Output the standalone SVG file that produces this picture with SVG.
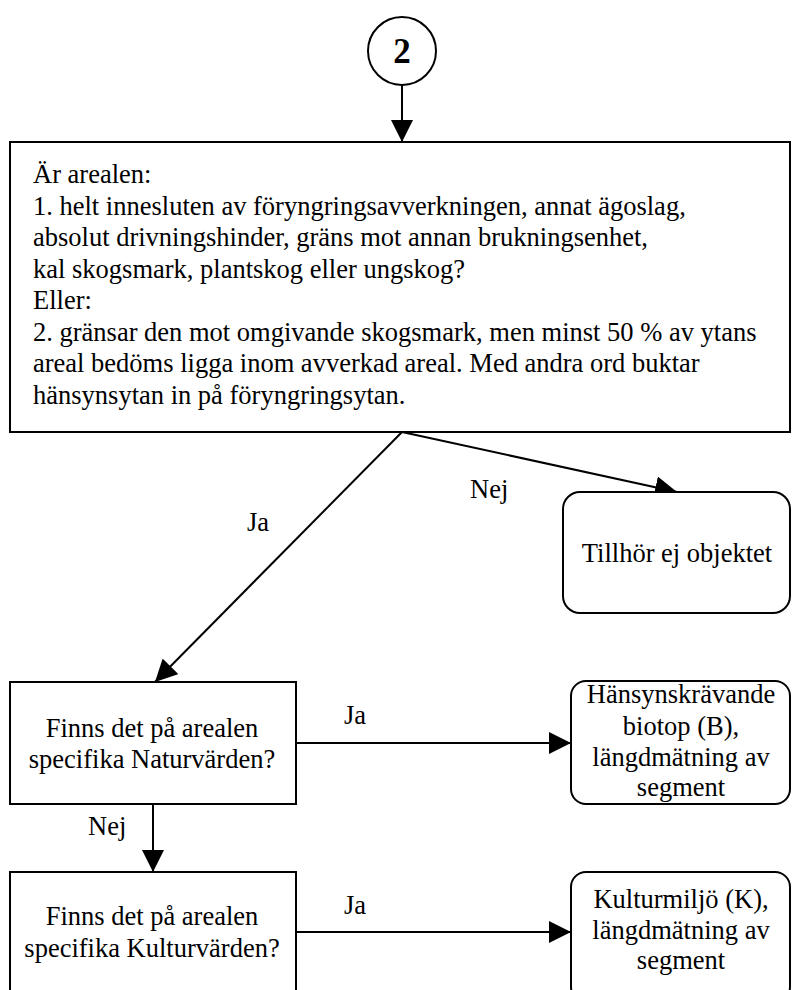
<svg xmlns="http://www.w3.org/2000/svg" width="792" height="990" viewBox="0 0 792 990">
  <style>
    .box { fill: #fff; stroke: #000; stroke-width: 2; }
    .conn { fill: none; stroke: #000; stroke-width: 2; marker-end: url(#arrow); }
    text { font-family: "Liberation Serif", "Times New Roman", serif; font-size: 26.5px; fill: #000; }
    .c { text-anchor: middle; }
  </style>
  <defs>
    <marker id="arrow" markerUnits="userSpaceOnUse" markerWidth="22" markerHeight="22" viewBox="0 0 20 20" refX="20" refY="10" orient="auto">
      <path d="M0,0 L20,10 L0,20 Z" fill="#000"/>
    </marker>
  </defs>
  <rect width="792" height="990" fill="#fff"/>

  <g id="connectors">
    <line class="conn" x1="402" y1="85" x2="402" y2="142"/>
    <line class="conn" x1="402" y1="432" x2="155" y2="682"/>
    <line class="conn" x1="402" y1="432" x2="677" y2="492"/>
    <line class="conn" x1="296" y1="743" x2="571" y2="743"/>
    <line class="conn" x1="153" y1="804" x2="153" y2="872"/>
    <line class="conn" x1="296" y1="932" x2="571" y2="932"/>
    <text x="247" y="531">Ja</text>
    <text x="470" y="498">Nej</text>
    <text x="344" y="724">Ja</text>
    <text x="88" y="835">Nej</text>
    <text x="344" y="914">Ja</text>
  </g>

  <g id="start">
    <circle cx="402" cy="51" r="34" fill="#fff" stroke="#000" stroke-width="2"/>
    <text class="c" x="402" y="63" font-weight="bold" style="font-size:35px">2</text>
  </g>

  <g id="question">
    <rect class="box" x="10" y="142" width="780" height="290"/>
    <text x="33">
      <tspan x="33" y="183">Är arealen:</tspan>
      <tspan x="33" y="214.5">1. helt innesluten av föryngringsavverkningen, annat ägoslag,</tspan>
      <tspan x="33" y="246">absolut drivningshinder, gräns mot annan brukningsenhet,</tspan>
      <tspan x="33" y="277.5">kal skogsmark, plantskog eller ungskog?</tspan>
      <tspan x="33" y="309">Eller:</tspan>
      <tspan x="33" y="340.5">2. gränsar den mot omgivande skogsmark, men minst 50 % av ytans</tspan>
      <tspan x="33" y="372">areal bedöms ligga inom avverkad areal. Med andra ord buktar</tspan>
      <tspan x="33" y="403.5">hänsynsytan in på föryngringsytan.</tspan>
    </text>
  </g>

  <g id="tillhor">
    <rect class="box" x="563" y="492" width="227" height="121" rx="17" ry="17"/>
    <text class="c" x="677" y="562">Tillhör ej objektet</text>
  </g>

  <g id="natur">
    <rect class="box" x="10" y="682" width="286" height="122"/>
    <text class="c" x="152" y="737">Finns det på arealen</text>
    <text class="c" x="152" y="768">specifika Naturvärden?</text>
  </g>

  <g id="hansyn">
    <rect class="box" x="571" y="681" width="219" height="123" rx="15" ry="15"/>
    <text class="c" x="681" y="703">Hänsynskrävande</text>
    <text class="c" x="681" y="734.5">biotop (B),</text>
    <text class="c" x="681" y="766">längdmätning av</text>
    <text class="c" x="681" y="796">segment</text>
  </g>

  <g id="kultur">
    <rect class="box" x="10" y="872" width="286" height="130"/>
    <text class="c" x="152" y="925">Finns det på arealen</text>
    <text class="c" x="152" y="957">specifika Kulturvärden?</text>
  </g>

  <g id="kulturmiljo">
    <rect class="box" x="571" y="872" width="219" height="130" rx="15" ry="15"/>
    <text class="c" x="681" y="908">Kulturmiljö (K),</text>
    <text class="c" x="681" y="939">längdmätning av</text>
    <text class="c" x="681" y="969">segment</text>
  </g>
</svg>
